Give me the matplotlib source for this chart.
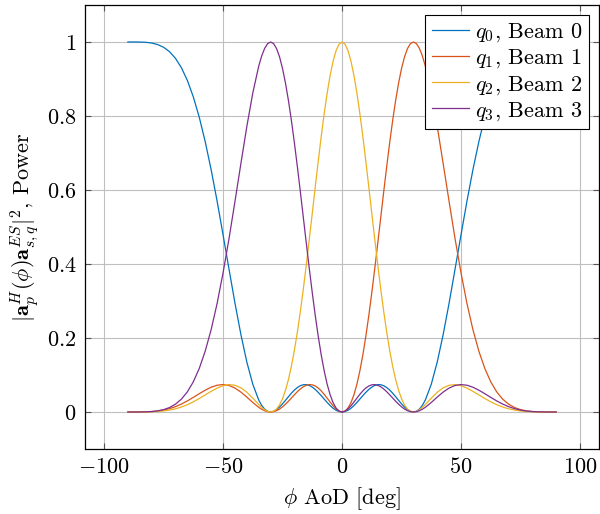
import matplotlib
matplotlib.use("Agg")
import matplotlib.pyplot as plt

# ---- data (AoD in degrees) ----
# 2.5 deg steps in the outer parts, 1.25 deg steps inside +-35 deg
aod_deg = [
    -90.0, -87.5, -85.0, -82.5, -80.0, -77.5, -75.0, -72.5, -70.0, -67.5, -65.0,
    -62.5, -60.0, -57.5, -55.0, -52.5, -50.0, -47.5, -45.0, -42.5, -40.0, -37.5,
    -35.0, -33.75, -32.5, -31.25, -30.0, -28.75, -27.5, -26.25, -25.0, -23.75,
    -22.5, -21.25, -20.0, -18.75, -17.5, -16.25, -15.0, -13.75, -12.5, -11.25,
    -10.0, -8.75, -7.5, -6.25, -5.0, -3.75, -2.5, -1.25,
    0.0,
    1.25, 2.5, 3.75, 5.0, 6.25, 7.5, 8.75, 10.0, 11.25, 12.5, 13.75, 15.0,
    16.25, 17.5, 18.75, 20.0, 21.25, 22.5, 23.75, 25.0, 26.25, 27.5, 28.75,
    30.0, 31.25, 32.5, 33.75, 35.0,
    37.5, 40.0, 42.5, 45.0, 47.5, 50.0, 52.5, 55.0, 57.5, 60.0, 62.5,
    65.0, 67.5, 70.0, 72.5, 75.0, 77.5, 80.0, 82.5, 85.0, 87.5, 90.0,
]

beam0 = [
    1.0, 1.0, 0.9998, 0.9991, 0.9972, 0.9931, 0.9858, 0.9739, 0.9559, 0.9305, 0.8962,
    0.8518, 0.7967, 0.7308, 0.6547, 0.5701, 0.4789, 0.3863, 0.2945, 0.2094, 0.1348, 0.0749,
    0.0323, 0.0177, 0.0076, 0.0018, 0.0, 0.0017, 0.0063, 0.0133, 0.0220, 0.0316,
    0.0415, 0.0510, 0.0594, 0.0662, 0.0711, 0.0737, 0.0739, 0.0717, 0.0672, 0.0609,
    0.0530, 0.0442, 0.0349, 0.0257, 0.0173, 0.0101, 0.0046, 0.0012,
    0.0,
    0.0012, 0.0046, 0.0101, 0.0173, 0.0257, 0.0349, 0.0442, 0.0530, 0.0609, 0.0672, 0.0717, 0.0739,
    0.0737, 0.0711, 0.0662, 0.0594, 0.0510, 0.0415, 0.0316, 0.0220, 0.0133, 0.0063, 0.0017,
    0.0, 0.0018, 0.0076, 0.0177, 0.0323,
    0.0749, 0.1348, 0.2094, 0.2945, 0.3863, 0.4789, 0.5701, 0.6547, 0.7308, 0.7967, 0.8518,
    0.8962, 0.9305, 0.9559, 0.9739, 0.9858, 0.9931, 0.9972, 0.9991, 0.9998, 1.0, 1.0,
]

beam1 = [
    0.0, 0.0, 0.0001, 0.0004, 0.0011, 0.0026, 0.0051, 0.0090, 0.0144, 0.0214, 0.0299,
    0.0394, 0.0494, 0.0589, 0.0669, 0.0723, 0.0741, 0.0716, 0.0647, 0.0538, 0.0402, 0.0257,
    0.0126, 0.0074, 0.0034, 0.0009, 0.0, 0.0009, 0.0036, 0.0079, 0.0139, 0.0211,
    0.0292, 0.0379, 0.0467, 0.0549, 0.0623, 0.0682, 0.0722, 0.0740, 0.0734, 0.0703,
    0.0648, 0.0571, 0.0478, 0.0374, 0.0267, 0.0166, 0.0081, 0.0022,
    0.0,
    0.0025, 0.0106, 0.0251, 0.0465, 0.0751, 0.1112, 0.1544, 0.2044, 0.2606, 0.3220, 0.3874, 0.4553,
    0.5250, 0.5944, 0.6620, 0.7266, 0.7867, 0.8410, 0.8885, 0.9282, 0.9596, 0.9821, 0.9956,
    1.0, 0.9957, 0.9830, 0.9625, 0.9349,
    0.8621, 0.7718, 0.6714, 0.5686, 0.4681, 0.3760, 0.2931, 0.2226, 0.1643, 0.1176, 0.0814,
    0.0543, 0.0347, 0.0211, 0.0120, 0.0063, 0.0030, 0.0012, 0.0004, 0.0001, 0.0, 0.0,
]

beam2 = [
    0.0, 0.0, 0.0, 0.0002, 0.0006, 0.0014, 0.0028, 0.0052, 0.0086, 0.0134, 0.0197,
    0.0274, 0.0364, 0.0461, 0.0558, 0.0645, 0.0711, 0.0740, 0.0723, 0.0654, 0.0533, 0.0373,
    0.0202, 0.0125, 0.0060, 0.0016, 0.0, 0.0019, 0.0080, 0.0192, 0.0360, 0.0588,
    0.0883, 0.1245, 0.1674, 0.2168, 0.2723, 0.3332, 0.3986, 0.4670, 0.5374, 0.6082,
    0.6778, 0.7443, 0.8062, 0.8618, 0.9096, 0.9483, 0.9768, 0.9941,
    1.0,
    0.9941, 0.9768, 0.9483, 0.9096, 0.8618, 0.8062, 0.7443, 0.6778, 0.6082, 0.5374, 0.4670, 0.3986,
    0.3332, 0.2723, 0.2168, 0.1674, 0.1245, 0.0883, 0.0588, 0.0360, 0.0192, 0.0080, 0.0019,
    0.0, 0.0016, 0.0060, 0.0125, 0.0202,
    0.0373, 0.0533, 0.0654, 0.0723, 0.0740, 0.0711, 0.0645, 0.0558, 0.0461, 0.0364, 0.0274,
    0.0197, 0.0134, 0.0086, 0.0052, 0.0028, 0.0014, 0.0006, 0.0002, 0.0, 0.0, 0.0,
]

beam3 = [
    0.0, 0.0, 0.0001, 0.0004, 0.0012, 0.0030, 0.0063, 0.0120, 0.0211, 0.0347, 0.0543,
    0.0814, 0.1176, 0.1643, 0.2226, 0.2931, 0.3760, 0.4681, 0.5686, 0.6714, 0.7718, 0.8621,
    0.9349, 0.9625, 0.9830, 0.9957, 1.0, 0.9956, 0.9821, 0.9596, 0.9282, 0.8885,
    0.8410, 0.7867, 0.7266, 0.6620, 0.5944, 0.5250, 0.4553, 0.3874, 0.3220, 0.2606,
    0.2044, 0.1544, 0.1112, 0.0751, 0.0465, 0.0251, 0.0106, 0.0025,
    0.0,
    0.0022, 0.0081, 0.0166, 0.0267, 0.0374, 0.0478, 0.0571, 0.0648, 0.0703, 0.0734, 0.0740, 0.0722,
    0.0682, 0.0623, 0.0549, 0.0467, 0.0379, 0.0292, 0.0211, 0.0139, 0.0079, 0.0036, 0.0009,
    0.0, 0.0009, 0.0034, 0.0074, 0.0126,
    0.0257, 0.0402, 0.0538, 0.0647, 0.0716, 0.0741, 0.0723, 0.0669, 0.0589, 0.0494, 0.0394,
    0.0299, 0.0214, 0.0144, 0.0090, 0.0051, 0.0026, 0.0011, 0.0004, 0.0001, 0.0, 0.0,
]

labels = [r"$q_0$, Beam 0", r"$q_1$, Beam 1", r"$q_2$, Beam 2", r"$q_3$, Beam 3"]
colors = ["#0072BD", "#D95319", "#EDB120", "#7E2F8E"]

x_ticks = [-100, -50, 0, 50, 100]
y_ticks = [0, 0.2, 0.4, 0.6, 0.8, 1]
y_tick_labels = ["$0$", "$0.2$", "$0.4$", "$0.6$", "$0.8$", "$1$"]

# ---- style: pgfplots look ----
plt.rcParams["font.family"] = "serif"
plt.rcParams["font.serif"] = ["cmr10"]
plt.rcParams["mathtext.fontset"] = "cm"
plt.rcParams["axes.formatter.use_mathtext"] = True
plt.rcParams["axes.unicode_minus"] = True

FS = 16

fig = plt.figure(figsize=(6.0, 5.14), dpi=100)
ax = fig.add_axes([0.1417, 0.1265, 0.8567, 0.8638])

for y, lab, col in zip([beam0, beam1, beam2, beam3], labels, colors):
    ax.plot(aod_deg, y, color=col, linewidth=0.9, label=lab)

ax.set_xlim(-108, 108)
ax.set_ylim(-0.1, 1.1)
ax.set_xticks(x_ticks)
ax.set_yticks(y_ticks)
ax.set_xticklabels([r"$%d$" % t if t >= 0 else r"$-%d$" % -t for t in x_ticks])
ax.set_yticklabels(y_tick_labels)

ax.grid(True, color="#bfbfbf", linewidth=0.8)
ax.set_axisbelow(True)
ax.tick_params(direction="in", length=4, width=0.8, color="#555555",
               top=True, right=True, labelsize=FS, pad=6)
for sp in ax.spines.values():
    sp.set_linewidth(0.9)

ax.set_xlabel(r"$\phi$ AoD [deg]", fontsize=FS, labelpad=6)
ax.set_ylabel(r"$|\mathbf{a}_p^H(\phi)\mathbf{a}_{s,q}^{ES}|^2$, Power",
              fontsize=FS, labelpad=4)

leg = ax.legend(loc="upper right", fontsize=FS, fancybox=False, framealpha=1,
                edgecolor="black", borderaxespad=0.45, handlelength=1.7,
                borderpad=0.3, labelspacing=0.15, handletextpad=0.25)
leg.get_frame().set_linewidth(0.8)

fig.savefig("out.png", dpi=100)
plt.close(fig)
